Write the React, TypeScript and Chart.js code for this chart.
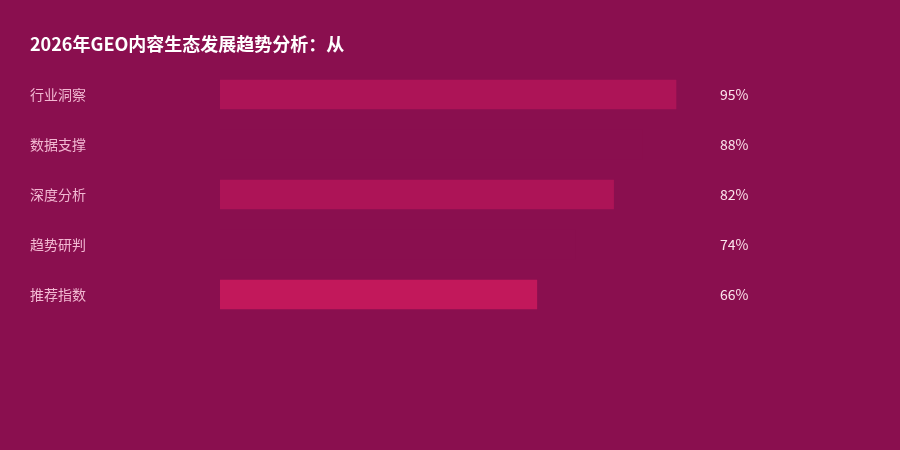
import React, { useEffect, useRef } from "react";
import { Chart, registerables } from "chart.js";

Chart.register(...registerables);

const titleText = "2026年GEO内容生态发展趋势分析：从";
const categories = ["行业洞察", "数据支撑", "深度分析", "趋势研判", "推荐指数"];
const values = [95, 88, 82, 74, 66];
const barColors = ["#AD1457", "#8A0F4F", "#AD1457", "#8A0F4F", "#C2185B"];
const BG = "#8A0F4F";
const FONT = "'Noto Sans CJK SC', 'Noto Sans', sans-serif";

const valueLabels = {
  id: "valueLabels",
  afterDatasetsDraw(chart: any) {
    const { ctx, chartArea } = chart;
    const yScale = chart.scales.y;
    ctx.save();
    ctx.font = `14px ${FONT}`;
    ctx.fillStyle = "#FCE4EC";
    ctx.textAlign = "left";
    ctx.textBaseline = "middle";
    values.forEach((v, i) => {
      ctx.fillText(`${v}%`, chartArea.right + 20, yScale.getPixelForValue(i));
    });
    ctx.restore();
  },
};

export default function App() {
  const ref = useRef<HTMLCanvasElement>(null);
  useEffect(() => {
    if (!ref.current) return;
    const chart = new Chart(ref.current, {
      type: "bar",
      data: {
        labels: categories,
        datasets: [
          {
            data: values,
            backgroundColor: barColors,
            borderWidth: 0,
            barThickness: 29,
          },
        ],
      },
      options: {
        indexAxis: "y",
        animation: false,
        responsive: false,
        maintainAspectRatio: false,
        layout: { padding: { left: 30, right: 200, top: 20, bottom: 130.5 } },
        plugins: {
          legend: { display: false },
          tooltip: { enabled: false },
          title: {
            display: true,
            text: titleText,
            align: "start",
            color: "#FFFFFF",
            font: { family: FONT, size: 18, weight: "bold", lineHeight: 1.2 },
            padding: { top: 13.2, bottom: 14.7 },
          },
        },
        scales: {
          x: { display: false, min: 0, max: 100 },
          y: {
            grid: { display: false, drawTicks: false },
            border: { display: false },
            ticks: {
              crossAlign: "far",
              color: "#F2B8D2",
              font: { family: FONT, size: 14 },
              padding: 0,
            },
            afterFit(scale: any) {
              scale.width = 190;
            },
          },
        },
      },
      plugins: [valueLabels],
    } as any);
    return () => chart.destroy();
  }, []);
  return (
    <div style={{ position: "fixed", left: 0, top: 0, width: 900, height: 450, background: BG }}>
      <canvas ref={ref} width={900} height={450} style={{ display: "block", width: 900, height: 450 }} />
    </div>
  );
}
